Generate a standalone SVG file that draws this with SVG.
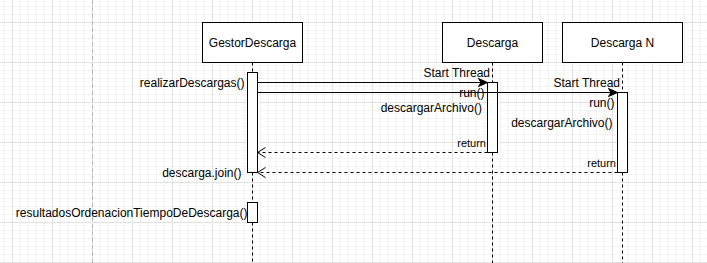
<svg xmlns="http://www.w3.org/2000/svg" width="707" height="263" viewBox="0 0 707 263">
  <style>
    .participant { fill: #ffffff; stroke: #000000; stroke-width: 1; }
    .activation { fill: #ffffff; stroke: #000000; stroke-width: 1; }
    .lifeline { stroke: #000000; stroke-width: 1; stroke-dasharray: 3 3; fill: none; }
    .call { stroke: #000000; stroke-width: 1; fill: none; }
    .reply { stroke: #000000; stroke-width: 1; stroke-dasharray: 3 3; fill: none; }
    text { font-family: "Liberation Sans", Arial, Helvetica, sans-serif; font-size: 12px; fill: #000000; }
    .title { text-anchor: middle; }
    .label { text-anchor: end; }
    .small { font-size: 11px; }
  </style>
  <defs>
    <pattern id="grid" patternUnits="userSpaceOnUse" x="12" y="22" width="40" height="40">
      <path d="M8.5,0 V40 M16.5,0 V40 M24.5,0 V40 M32.5,0 V40 M0,8.5 H40 M0,16.5 H40 M0,24.5 H40 M0,32.5 H40" stroke="#f3f3f3" stroke-width="1" fill="none"/>
      <path d="M0.5,0 V40 M0,0.5 H40" stroke="#e2e2e2" stroke-width="1" fill="none"/>
    </pattern>
    <marker id="block" markerUnits="userSpaceOnUse" markerWidth="10" markerHeight="10" refX="9" refY="4.5" orient="auto" overflow="visible">
      <path d="M0,0.5 L9,4.5 L0,8.5 L2.5,4.5 Z" fill="#000000" stroke="#000000" stroke-width="1"/>
    </marker>
    <marker id="open" markerUnits="userSpaceOnUse" markerWidth="10" markerHeight="12" refX="9" refY="5" orient="auto" overflow="visible">
      <path d="M1,0 L9,5 L1,10" fill="none" stroke="#000000" stroke-width="1"/>
    </marker>
  </defs>

  <!-- canvas background with grid -->
  <rect x="0" y="0" width="707" height="263" fill="#ffffff"/>
  <rect x="0" y="0" width="707" height="263" fill="url(#grid)"/>
  <!-- page boundary -->
  <line x1="92.5" y1="0" x2="92.5" y2="263" stroke="#b5b5b5" stroke-width="1" stroke-dasharray="4 3"/>

  <!-- participant: GestorDescarga -->
  <g id="gestorDescarga">
    <rect class="participant" x="202.5" y="22.5" width="100" height="40"/>
    <text class="title" x="252.5" y="46.5">GestorDescarga</text>
    <path class="lifeline" d="M252.5,62.5 V72.5 M252.5,172.5 V202.5 M252.5,222.5 V263"/>
    <rect class="activation" x="247.5" y="72.5" width="10" height="100"/>
    <rect class="activation" x="247.5" y="202.5" width="10" height="20"/>
    <text class="label" x="244.5" y="86.5">realizarDescargas()</text>
    <text class="label" x="241.5" y="176.5">descarga.join()</text>
    <text class="label" x="247.5" y="216.5">resultadosOrdenacionTiempoDeDescarga()</text>
  </g>

  <!-- participant: Descarga -->
  <g id="descarga">
    <rect class="participant" x="442.5" y="22.5" width="100" height="40"/>
    <text class="title" x="492.5" y="46.5">Descarga</text>
    <path class="lifeline" d="M492.5,62.5 V82.5 M492.5,152.5 V263"/>
    <rect class="activation" x="487.5" y="82.5" width="10" height="70"/>
    <text class="label" x="490" y="76.5">Start Thread</text>
    <text class="label" x="484.5" y="96.5">run()</text>
    <text class="label" x="482" y="112">descargarArchivo()</text>
    <text class="label small" x="486" y="147">return</text>
  </g>

  <!-- participant: Descarga N -->
  <g id="descargaN">
    <rect class="participant" x="562.5" y="22.5" width="120" height="40"/>
    <text class="title" x="622.5" y="46.5">Descarga N</text>
    <path class="lifeline" d="M622.5,62.5 V92.5 M622.5,172.5 V263"/>
    <rect class="activation" x="617.5" y="92.5" width="10" height="80"/>
    <text class="label" x="620" y="86.5">Start Thread</text>
    <text class="label" x="614.5" y="106.5">run()</text>
    <text class="label" x="612.5" y="126.5">descargarArchivo()</text>
    <text class="label small" x="616" y="167">return</text>
  </g>

  <!-- messages -->
  <g id="connectors">
    <line class="call" x1="257.5" y1="82.5" x2="487.5" y2="82.5" marker-end="url(#block)"/>
    <line class="call" x1="257.5" y1="92.5" x2="617.5" y2="92.5" marker-end="url(#block)"/>
    <line class="reply" x1="487.5" y1="152.5" x2="257.5" y2="152.5" marker-end="url(#open)"/>
    <line class="reply" x1="617.5" y1="172.5" x2="257.5" y2="172.5" marker-end="url(#open)"/>
  </g>
</svg>
